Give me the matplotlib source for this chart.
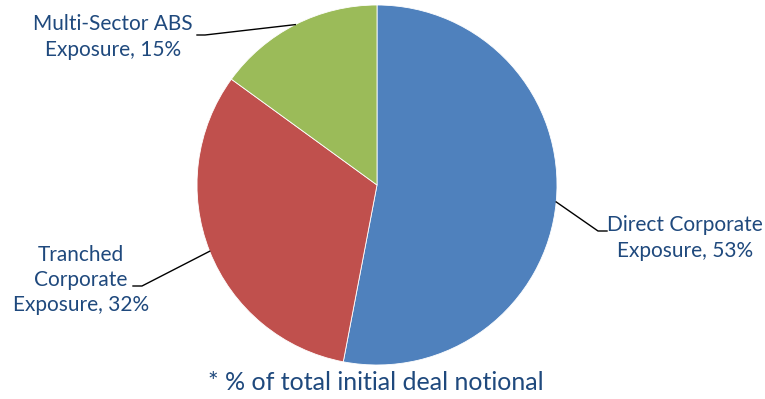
import numpy as np
import matplotlib.pyplot as plt

# exposure breakdown
labels = ["Direct Corporate\nExposure, 53%", "Tranched\nCorporate\nExposure, 32%", "Multi-Sector ABS\nExposure, 15%"]
values = [53, 32, 15]
colors = ["#4F81BD", "#C0504D", "#9BBB59"]
footnote = "* % of total initial deal notional"

text_col = "#1F497D"
font = "Lato"

W, H = 765, 399
fig = plt.figure(figsize=(W / 100, H / 100), dpi=100)
ax = fig.add_axes([0, 0, 1, 1])

cx, cy, r = 377, H - 185, 180
wedges, _ = ax.pie(values, colors=colors, startangle=90, counterclock=False,
                   center=(cx, cy), radius=r,
                   wedgeprops=dict(edgecolor="white", linewidth=0.6))
ax.set_xlim(0, W)
ax.set_ylim(0, H)
ax.set_aspect("equal")
ax.axis("off")

# label placement: (text centre x, text centre y, elbow x, elbow y, end x)
label_pos = [
    (685, H - 238, 598, H - 231, 607),
    (81, H - 280, 142, H - 286, 133),
    (113, H - 37, 205, H - 35, 197),
]

for w, lab, (tx, ty, ex, ey, endx) in zip(wedges, labels, label_pos):
    mid = np.deg2rad((w.theta1 + w.theta2) / 2)
    ax0 = cx + r * np.cos(mid)
    ay0 = cy + r * np.sin(mid)
    ax.plot([ax0, ex, endx], [ay0, ey, ey], color="black", lw=1)
    ax.text(tx, ty, lab, ha="center", va="center", fontsize=15, color=text_col,
            family=font, linespacing=1.33)

ax.text(376, H - 383, footnote, ha="center", va="center", fontsize=18,
        color=text_col, family=font)

fig.savefig("out.png", dpi=100)
